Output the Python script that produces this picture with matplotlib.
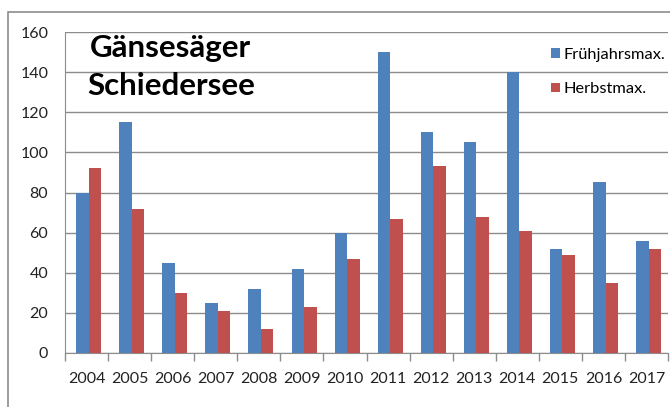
import matplotlib
matplotlib.use('Agg')
import matplotlib.pyplot as plt
import numpy as np
from matplotlib.patches import Rectangle

years = ['2004', '2005', '2006', '2007', '2008', '2009', '2010',
         '2011', '2012', '2013', '2014', '2015', '2016', '2017']
fruehjahr = [80, 115, 45, 25, 32, 42, 60, 150, 110, 105, 140, 52, 85, 56]
herbst = [92, 72, 30, 21, 12, 23, 47, 67, 93, 68, 61, 49, 35, 52]

plt.rcParams['font.family'] = ['Lato', 'DejaVu Sans']

fig = plt.figure(figsize=(6.7, 4.07), dpi=100)
ax = fig.add_axes([65 / 670, 1 - 353 / 407, 603 / 670, 321 / 407])

x = np.arange(len(years))
w = 0.29
ax.bar(x - w / 2 + 0.05, fruehjahr, w, color='#4F81BD', label='Frühjahrsmax.', zorder=3)
ax.bar(x + w / 2 + 0.05, herbst, w, color='#C0504D', label='Herbstmax.', zorder=3)

ax.set_xlim(-0.5, len(years) - 0.5)
ax.set_ylim(0, 160)
ax.set_yticks(range(0, 161, 20))
ax.yaxis.grid(True, color='#8c8c8c', linewidth=1, zorder=0)
ax.tick_params(axis='y', length=0, labelsize=11.5, colors='#222222', pad=12)

ax.set_xticks(x)
ax.set_xticklabels(years, fontsize=11.5, color='#222222')
ax.tick_params(axis='x', length=0, pad=14)
ax.set_xticks(np.arange(len(years) + 1) - 0.5, minor=True)
ax.tick_params(axis='x', which='minor', length=6, color='#8c8c8c', width=1)

for s in ['top', 'right']:
    ax.spines[s].set_visible(False)
ax.spines['left'].set_color('#8c8c8c')
ax.spines['bottom'].set_color('#8c8c8c')

# chart border (runs past the crop on right and bottom)
fig.patches.append(Rectangle((8 / 670, -0.2), 1.2, 1.2 - 12 / 407,
                             transform=fig.transFigure, fill=False,
                             edgecolor='#8c8c8c', linewidth=1.2))

fig.text(90 / 670, 1 - 57 / 407, 'Gänsesäger', fontsize=22.5, fontweight='bold')
fig.text(87 / 670, 1 - 95 / 407, 'Schiedersee', fontsize=22.5, fontweight='bold')

fig.legend(loc='upper left', bbox_to_anchor=(536 / 670, 1 - 33 / 407),
           frameon=False, fontsize=11.8, handlelength=0.55, handleheight=0.55,
           handletextpad=0.25, labelspacing=1.25)

fig.savefig('out.png', dpi=100)
